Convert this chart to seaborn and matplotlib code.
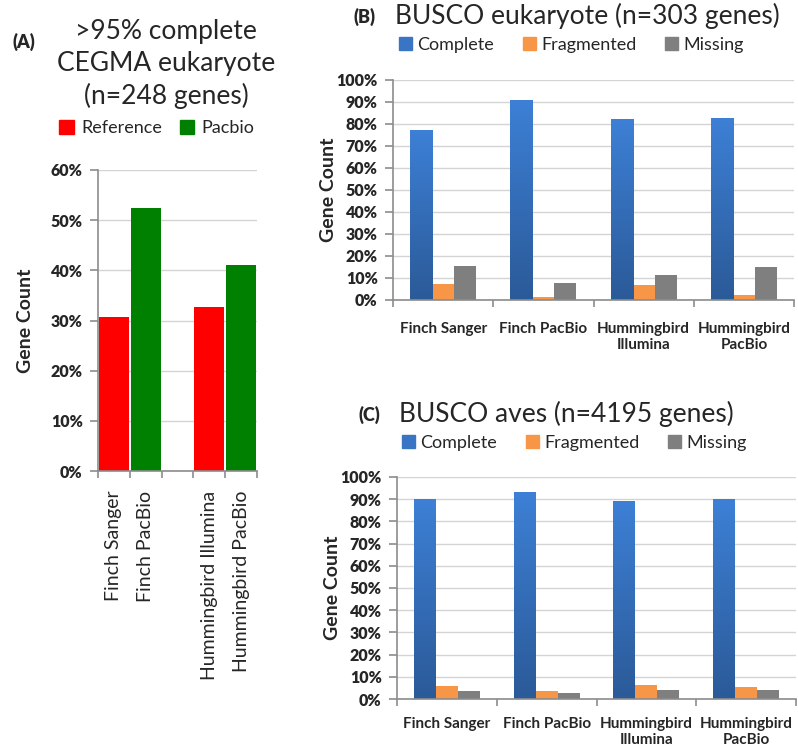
import numpy as np
import pandas as pd
import matplotlib
matplotlib.use("Agg")
import matplotlib.pyplot as plt
import seaborn as sns
from matplotlib.patches import Patch

# ---------------- data ----------------
a_order = ["Finch Sanger", "Finch PacBio", " ", "Hummingbird Illumina", "Hummingbird PacBio"]
a_samples = ["Finch Sanger", "Finch PacBio", "Hummingbird Illumina", "Hummingbird PacBio"]
a_source = ["Reference", "Pacbio", "Reference", "Pacbio"]
a_values = [30.6, 52.4, 32.6, 41.1]

busco_groups = ["Finch Sanger", "Finch PacBio", "Hummingbird\nIllumina", "Hummingbird\nPacBio"]
status = ["Complete", "Fragmented", "Missing"]

b_complete = [77.3, 91.0, 82.1, 82.8]
b_fragmented = [7.3, 1.5, 6.8, 2.3]
b_missing = [15.6, 7.6, 11.2, 15.1]

c_complete = [90.2, 93.2, 89.4, 90.0]
c_fragmented = [5.7, 3.8, 6.2, 5.3]
c_missing = [3.5, 2.9, 4.1, 4.2]

a_colors = {"Reference": "#ff0000", "Pacbio": "#008000"}
busco_colors = {"Complete": "#3a74c4", "Fragmented": "#f79646", "Missing": "#7f7f7f"}

sns.set_theme(style="white")
plt.rcParams["font.family"] = ["Lato", "DejaVu Sans"]

W, H = 798, 751
fig = plt.figure(figsize=(W / 100, H / 100), dpi=100)


def px_axes(left, top, right, bottom):
    return fig.add_axes([left / W, 1 - bottom / H, (right - left) / W, (bottom - top) / H])


def style_axes(ax, n, ymax, step):
    ax.set_ylim(0, ymax)
    ax.set_xlim(-0.5, n - 0.5)
    yt = np.arange(0, ymax + 0.1, step)
    ax.set_yticks(yt, labels=[f"{v:.0f}%" for v in yt], fontsize=11.5, fontweight="heavy")
    ax.grid(axis="y", color="#d4d4d4", linewidth=1)
    ax.set_axisbelow(True)
    for s in ["top", "right"]:
        ax.spines[s].set_visible(False)
    for s in ["left", "bottom"]:
        ax.spines[s].set_color("#8c8c8c")
        ax.spines[s].set_linewidth(1.2)
    ax.set_xticks(np.arange(-0.5, n, 1), minor=True)
    ax.tick_params(axis="x", which="minor", length=5, width=1.2, color="#8c8c8c", direction="out", bottom=True)
    ax.tick_params(axis="x", which="major", length=0)
    ax.tick_params(axis="y", length=6, width=1.2, color="#8c8c8c", left=True, pad=5)
    ax.set_xlabel("")
    ax.set_ylabel("Gene Count", fontsize=14, fontweight="bold")


def gradient_bars(ax, patches):
    # Excel-like vertical gradient on the "Complete" bars
    grad = np.linspace(0, 1, 256).reshape(-1, 1)
    cmap = matplotlib.colors.LinearSegmentedColormap.from_list("blue", ["#2b5a98", "#3d80d6"])
    for p in patches:
        x0, y0 = p.get_x(), p.get_y()
        w, h = p.get_width(), p.get_height()
        im = ax.imshow(grad, cmap=cmap, origin="lower", aspect="auto",
                       extent=[x0, x0 + w, y0, y0 + h], zorder=p.get_zorder())
        im.set_clip_path(p)


# ---------------- panel A ----------------
df_a = pd.DataFrame({"sample": a_samples, "source": a_source, "value": a_values})
ax_a = px_axes(98, 170, 257, 471)
sns.barplot(data=df_a, x="sample", y="value", hue="source", order=a_order,
            palette=a_colors, dodge=False, width=0.94, ax=ax_a, legend=False,
            edgecolor="none", saturation=1)
style_axes(ax_a, len(a_order), 60, 10)
ax_a.set_xticks(range(len(a_order)))
ax_a.set_xticklabels(a_order, rotation=90, fontsize=14, va="top")
ax_a.tick_params(axis="x", which="major", pad=14)
ax_a.yaxis.set_label_coords(-0.4, 0.5)

fig.text(24 / W, 1 - 42 / H, "(A)", fontsize=13, fontweight="heavy", ha="center", va="center")
fig.text(166 / W, 1 - 31 / H, ">95% complete", fontsize=19, ha="center", va="center")
fig.text(166 / W, 1 - 64 / H, "CEGMA eukaryote", fontsize=19, ha="center", va="center")
fig.text(166 / W, 1 - 96 / H, "(n=248 genes)", fontsize=19, ha="center", va="center")
fig.legend(handles=[Patch(color=a_colors[k], label=k) for k in ["Reference", "Pacbio"]],
           loc="center", bbox_to_anchor=(157 / W, 1 - 128 / H), ncol=2, frameon=False,
           fontsize=13, handlelength=0.8, handleheight=0.8, handletextpad=0.4, columnspacing=1.0)


# ---------------- panels B and C ----------------
def busco_panel(box, complete, fragmented, missing, label, title, title_y, leg_y, xpad):
    df = pd.DataFrame({
        "group": busco_groups * 3,
        "status": [s for s in status for _ in busco_groups],
        "value": complete + fragmented + missing,
    })
    ax = px_axes(*box)
    sns.barplot(data=df, x="group", y="value", hue="status", order=busco_groups,
                hue_order=status, palette=busco_colors, width=0.66, gap=0,
                ax=ax, legend=False, edgecolor="none", saturation=1)
    style_axes(ax, len(busco_groups), 100, 10)
    gradient_bars(ax, ax.patches[:len(busco_groups)])
    ax.set_xlim(-0.5, len(busco_groups) - 0.5)
    ax.set_ylim(0, 100)
    ax.set_xticks(range(len(busco_groups)))
    ax.set_xticklabels(busco_groups, fontsize=11, fontweight="bold", va="top", linespacing=1.2)
    ax.tick_params(axis="x", which="major", pad=xpad)
    ax.yaxis.set_label_coords(-0.14, 0.5)
    ax.legend(handles=[Patch(color=busco_colors[k], label=k) for k in status],
              loc="center", bbox_to_anchor=(0.445, leg_y), ncol=3, frameon=False,
              fontsize=13, handlelength=0.7, handleheight=0.7, handletextpad=0.3,
              columnspacing=1.6)
    fig.text((box[0] - 28) / W, 1 - (title_y + 1) / H, label, fontsize=13, fontweight="heavy",
             ha="center", va="center")
    fig.text((box[0] + 2) / W, 1 - title_y / H, title, fontsize=19, ha="left", va="center")
    return ax


busco_panel((393, 80, 794, 300), b_complete, b_fragmented, b_missing,
            "(B)", "BUSCO eukaryote (n=303 genes)", 16, 1.16, 16)
busco_panel((397, 477, 796, 699), c_complete, c_fragmented, c_missing,
            "(C)", "BUSCO aves (n=4195 genes)", 414, 1.153, 13)

fig.savefig("out.png", dpi=100)
